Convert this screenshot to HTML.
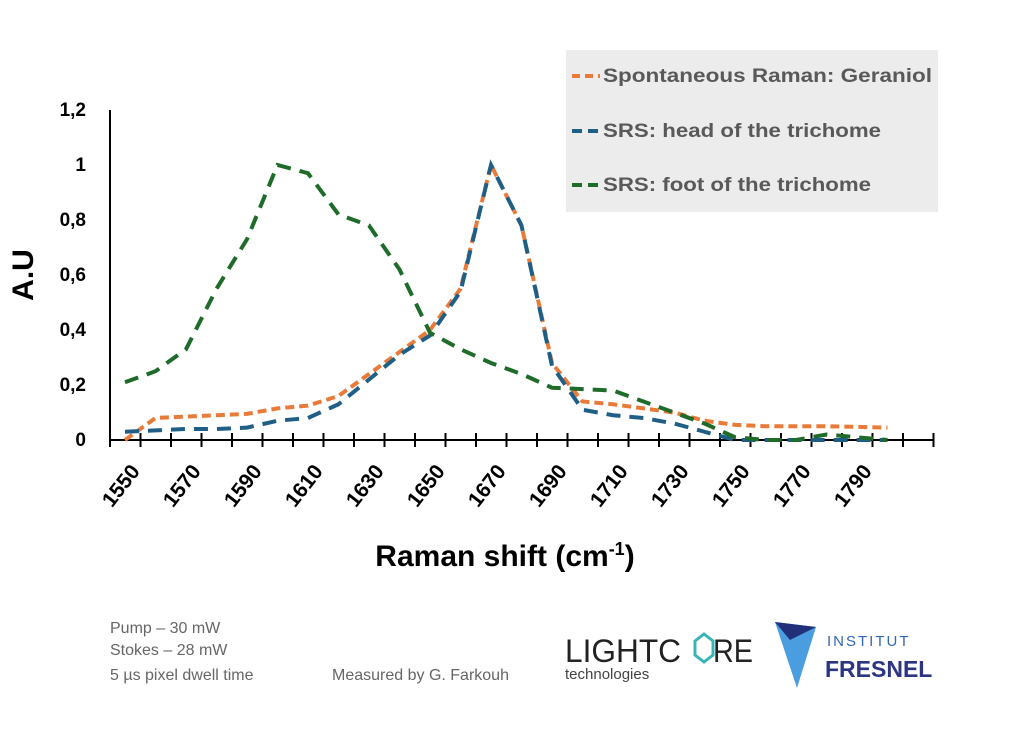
<!DOCTYPE html>
<html><head><style>
body{margin:0;background:#fff;width:1024px;height:738px;overflow:hidden;font-family:"Liberation Sans",sans-serif}
</style></head><body>
<svg width="1024" height="738" xmlns="http://www.w3.org/2000/svg" font-family="Liberation Sans, sans-serif">
<rect x="566" y="50" width="372" height="162" fill="#ececec"/>
<g font-weight="bold" font-size="19" fill="#595959">
<line x1="572" y1="76" x2="600" y2="76" stroke="#e97b3a" stroke-width="4" stroke-dasharray="8,5"/>
<text x="603" y="82" textLength="329" lengthAdjust="spacingAndGlyphs">Spontaneous Raman: Geraniol</text>
<line x1="572" y1="131" x2="600" y2="131" stroke="#1f5f86" stroke-width="4" stroke-dasharray="10,6"/>
<text x="603" y="137" textLength="278" lengthAdjust="spacingAndGlyphs">SRS: head of the trichome</text>
<line x1="572" y1="185" x2="600" y2="185" stroke="#1e6b2a" stroke-width="4" stroke-dasharray="10,6"/>
<text x="603" y="191" textLength="268" lengthAdjust="spacingAndGlyphs">SRS: foot of the trichome</text>
</g>
<g font-weight="bold" font-size="19" fill="#000" text-anchor="end">
<text x="86" y="116">1,2</text><text x="86" y="171">1</text><text x="86" y="226">0,8</text>
<text x="86" y="281">0,6</text><text x="86" y="336">0,4</text><text x="86" y="391">0,2</text><text x="86" y="446">0</text>
</g>
<text transform="translate(33,275) rotate(-90)" text-anchor="middle" font-weight="bold" font-size="30">A.U</text>
<line x1="110" y1="110" x2="110" y2="447" stroke="#000" stroke-width="2"/>
<line x1="110" y1="440" x2="934" y2="440" stroke="#000" stroke-width="2"/>
<g id="ticks" stroke="#000" stroke-width="2"></g>
<g id="xl" font-weight="bold" font-size="21" text-anchor="end"></g>
<text x="505" y="566" text-anchor="middle" font-weight="bold" font-size="30">Raman shift (cm<tspan dy="-11" font-size="18">-1</tspan><tspan dy="11">)</tspan></text>
<polyline id="o" fill="none" stroke="#e97b3a" stroke-width="4" stroke-dasharray="9,5"/>
<polyline id="b" fill="none" stroke="#1f5f86" stroke-width="4" stroke-dasharray="14,9"/>
<polyline id="g" fill="none" stroke="#1e6b2a" stroke-width="4" stroke-dasharray="14,9"/>
<g font-size="16" fill="#666">
<text x="110" y="633">Pump – 30 mW</text><text x="110" y="655">Stokes – 28 mW</text><text x="110" y="680">5 µs pixel dwell time</text>
<text x="332" y="680">Measured by G. Farkouh</text>
</g>
<text x="565" y="662" font-size="32" fill="#222" textLength="116" lengthAdjust="spacingAndGlyphs">LIGHTC</text>
<polygon points="695,641 704,634 713,641 713,655 704,662 695,655" fill="none" stroke="#3bb4b7" stroke-width="3"/>
<text x="713" y="662" font-size="32" fill="#222" textLength="40" lengthAdjust="spacingAndGlyphs">RE</text>
<text x="565" y="679" font-size="15" fill="#444">technologies</text>
<polygon points="775,622 816,627 797,688" fill="#4a9ee0"/>
<polygon points="775,622 816,627 790,640" fill="#22307a"/>
<text x="827" y="646" font-size="15" fill="#3566b5" letter-spacing="2">INSTITUT</text>
<text x="825" y="677" font-size="23" font-weight="bold" fill="#2b3582">FRESNEL</text>
</svg>
<script>
const ns="http://www.w3.org/2000/svg";
const t=document.getElementById('ticks'),xl=document.getElementById('xl');
for(let i=0;i<=27;i++){const x=110+30.5*i;const l=document.createElementNS(ns,'line');l.setAttribute('x1',x);l.setAttribute('x2',x);l.setAttribute('y1',433);l.setAttribute('y2',447);t.appendChild(l);}
for(let i=0;i<13;i++){const x=125+61*i+10,y=467;const tx=document.createElementNS(ns,'text');tx.setAttribute('transform',`translate(${x},${y}) rotate(-52)`);tx.setAttribute('dy','0.35em');tx.textContent=1550+20*i;xl.appendChild(tx);}
const O=[0,0.08,0.085,0.09,0.095,0.115,0.125,0.16,0.24,0.32,0.40,0.55,1.0,0.78,0.28,0.14,0.13,0.115,0.10,0.07,0.055,0.05,0.05,0.05,0.048,0.045];
const B=[0.03,0.035,0.04,0.04,0.045,0.07,0.08,0.13,0.22,0.31,0.38,0.54,1.0,0.78,0.27,0.11,0.09,0.08,0.06,0.03,0,0,0,0,0,0];
const G=[0.21,0.25,0.33,0.55,0.73,1.0,0.97,0.82,0.78,0.62,0.39,0.33,0.28,0.24,0.19,0.185,0.18,0.14,0.10,0.06,0.01,0,0,0.02,0.01,0];
function pts(a){return a.map((v,i)=>(125+30.5*i)+','+(440-275*v)).join(' ')}
document.getElementById('o').setAttribute('points',pts(O));
document.getElementById('b').setAttribute('points',pts(B));
document.getElementById('g').setAttribute('points',pts(G));
</script>
</body></html>
